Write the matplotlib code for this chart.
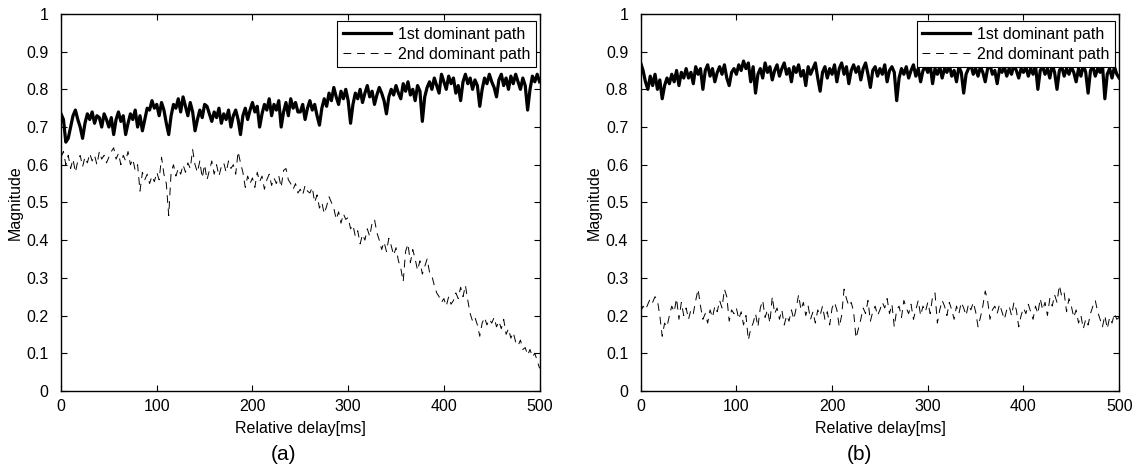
import numpy as np
import matplotlib
matplotlib.use("Agg")
import matplotlib.pyplot as plt

plt.rcParams['font.family'] = ['Liberation Sans', 'DejaVu Sans']

# relative delay axis [ms], one sample every 2.5 ms
delay = np.linspace(0, 500, 201)

# (a) magnitudes
a_first = [
    0.735, 0.72, 0.66, 0.67, 0.70, 0.73, 0.745, 0.72, 0.70, 0.67, 0.71, 0.735, 0.72, 0.74, 0.71, 0.73, 0.725, 0.70, 0.735, 0.72,
    0.70, 0.725, 0.68, 0.72, 0.74, 0.715, 0.73, 0.68, 0.71, 0.735, 0.72, 0.745, 0.70, 0.73, 0.69, 0.72, 0.75, 0.745, 0.77, 0.75,
    0.76, 0.73, 0.765, 0.745, 0.71, 0.68, 0.73, 0.76, 0.75, 0.775, 0.74, 0.78, 0.755, 0.73, 0.765, 0.74, 0.69, 0.72, 0.745, 0.725,
    0.76, 0.755, 0.735, 0.715, 0.74, 0.725, 0.75, 0.71, 0.735, 0.72, 0.745, 0.70, 0.73, 0.745, 0.72, 0.68, 0.73, 0.75, 0.72, 0.745,
    0.765, 0.74, 0.755, 0.70, 0.735, 0.76, 0.745, 0.775, 0.73, 0.76, 0.745, 0.77, 0.70, 0.74, 0.765, 0.73, 0.775, 0.75, 0.765, 0.74,
    0.74, 0.76, 0.72, 0.75, 0.77, 0.745, 0.76, 0.73, 0.705, 0.75, 0.775, 0.755, 0.79, 0.77, 0.805, 0.78, 0.76, 0.795, 0.775, 0.80,
    0.77, 0.71, 0.76, 0.79, 0.775, 0.80, 0.765, 0.79, 0.81, 0.78, 0.795, 0.76, 0.785, 0.805, 0.79, 0.77, 0.735, 0.78, 0.80, 0.785,
    0.81, 0.79, 0.775, 0.815, 0.795, 0.82, 0.785, 0.80, 0.77, 0.81, 0.795, 0.715, 0.78, 0.805, 0.82, 0.80, 0.83, 0.81, 0.79, 0.84,
    0.82, 0.80, 0.835, 0.815, 0.83, 0.79, 0.81, 0.77, 0.82, 0.84, 0.815, 0.83, 0.80, 0.825, 0.81, 0.755, 0.80, 0.83, 0.815, 0.84,
    0.82, 0.805, 0.78, 0.825, 0.84, 0.81, 0.83, 0.80, 0.835, 0.815, 0.84, 0.82, 0.80, 0.83, 0.81, 0.745, 0.80, 0.835, 0.82, 0.84,
    0.82]
a_second = [
    0.62, 0.635, 0.60, 0.625, 0.59, 0.615, 0.58, 0.61, 0.625, 0.595, 0.62, 0.605, 0.63, 0.61, 0.625, 0.60, 0.635, 0.615, 0.625, 0.605,
    0.62, 0.635, 0.645, 0.615, 0.63, 0.60, 0.625, 0.61, 0.635, 0.60, 0.615, 0.585, 0.60, 0.53, 0.58, 0.56, 0.575, 0.55, 0.57, 0.555,
    0.58, 0.56, 0.62, 0.575, 0.55, 0.465, 0.58, 0.60, 0.57, 0.59, 0.575, 0.60, 0.58, 0.605, 0.59, 0.64, 0.60, 0.58, 0.61, 0.565,
    0.60, 0.56, 0.585, 0.61, 0.575, 0.60, 0.57, 0.595, 0.605, 0.58, 0.61, 0.59, 0.60, 0.575, 0.635, 0.605, 0.58, 0.54, 0.57, 0.55,
    0.565, 0.54, 0.58, 0.555, 0.57, 0.535, 0.56, 0.575, 0.545, 0.565, 0.55, 0.57, 0.54, 0.585, 0.59, 0.56, 0.55, 0.535, 0.55, 0.525,
    0.535, 0.52, 0.545, 0.53, 0.525, 0.54, 0.50, 0.52, 0.485, 0.50, 0.47, 0.49, 0.515, 0.50, 0.485, 0.455, 0.475, 0.445, 0.47, 0.455,
    0.46, 0.43, 0.44, 0.41, 0.425, 0.39, 0.415, 0.40, 0.43, 0.41, 0.445, 0.455, 0.42, 0.40, 0.375, 0.395, 0.37, 0.405, 0.385, 0.36,
    0.38, 0.345, 0.325, 0.29, 0.37, 0.39, 0.34, 0.375, 0.35, 0.32, 0.345, 0.31, 0.33, 0.35, 0.315, 0.305, 0.28, 0.26, 0.25, 0.235,
    0.245, 0.225, 0.25, 0.23, 0.24, 0.26, 0.245, 0.275, 0.25, 0.28, 0.24, 0.205, 0.185, 0.195, 0.175, 0.145, 0.18, 0.195, 0.175, 0.19,
    0.18, 0.195, 0.17, 0.185, 0.165, 0.19, 0.15, 0.165, 0.14, 0.155, 0.13, 0.12, 0.135, 0.11, 0.115, 0.095, 0.11, 0.09, 0.10, 0.08,
    0.06]

# (b)
b_first = [
    0.87, 0.85, 0.82, 0.80, 0.835, 0.81, 0.84, 0.80, 0.825, 0.775, 0.81, 0.83, 0.815, 0.84, 0.82, 0.85, 0.81, 0.845, 0.83, 0.855,
    0.83, 0.845, 0.815, 0.86, 0.84, 0.855, 0.80, 0.85, 0.865, 0.835, 0.855, 0.82, 0.845, 0.86, 0.84, 0.865, 0.83, 0.81, 0.845, 0.855,
    0.84, 0.865, 0.85, 0.875, 0.855, 0.87, 0.82, 0.86, 0.79, 0.84, 0.855, 0.83, 0.87, 0.845, 0.86, 0.825, 0.85, 0.865, 0.835, 0.855,
    0.87, 0.84, 0.855, 0.82, 0.86, 0.845, 0.865, 0.835, 0.85, 0.81, 0.86, 0.84, 0.855, 0.87, 0.83, 0.795, 0.845, 0.86, 0.83, 0.855,
    0.84, 0.865, 0.82, 0.855, 0.87, 0.84, 0.86, 0.815, 0.85, 0.865, 0.845, 0.86, 0.825, 0.855, 0.87, 0.84, 0.805, 0.85, 0.86, 0.835,
    0.855, 0.84, 0.865, 0.82, 0.85, 0.86, 0.845, 0.77, 0.83, 0.855, 0.84, 0.86, 0.83, 0.85, 0.865, 0.835, 0.855, 0.82, 0.85, 0.86,
    0.845, 0.865, 0.815, 0.855, 0.84, 0.86, 0.83, 0.855, 0.845, 0.865, 0.835, 0.85, 0.82, 0.86, 0.845, 0.79, 0.84, 0.855, 0.865, 0.84,
    0.855, 0.835, 0.86, 0.845, 0.82, 0.855, 0.865, 0.84, 0.85, 0.815, 0.855, 0.845, 0.86, 0.835, 0.855, 0.84, 0.865, 0.85, 0.83, 0.855,
    0.845, 0.86, 0.835, 0.855, 0.84, 0.865, 0.80, 0.85, 0.86, 0.84, 0.855, 0.83, 0.865, 0.845, 0.80, 0.85, 0.86, 0.835, 0.855, 0.84,
    0.86, 0.845, 0.82, 0.855, 0.835, 0.865, 0.845, 0.79, 0.85, 0.86, 0.835, 0.855, 0.845, 0.865, 0.775, 0.84, 0.855, 0.83, 0.86, 0.84,
    0.83]
b_second = [
    0.21, 0.225, 0.215, 0.23, 0.245, 0.235, 0.25, 0.24, 0.20, 0.145, 0.18, 0.17, 0.20, 0.225, 0.21, 0.245, 0.19, 0.235, 0.20, 0.22,
    0.19, 0.215, 0.205, 0.24, 0.27, 0.225, 0.19, 0.205, 0.18, 0.215, 0.195, 0.225, 0.21, 0.24, 0.22, 0.27, 0.25, 0.185, 0.215, 0.205,
    0.22, 0.19, 0.21, 0.175, 0.20, 0.135, 0.165, 0.18, 0.205, 0.17, 0.22, 0.24, 0.195, 0.215, 0.18, 0.25, 0.205, 0.22, 0.19, 0.215,
    0.175, 0.20, 0.185, 0.215, 0.19, 0.22, 0.255, 0.215, 0.235, 0.20, 0.225, 0.19, 0.21, 0.18, 0.215, 0.20, 0.225, 0.19, 0.21, 0.175,
    0.22, 0.235, 0.215, 0.17, 0.20, 0.27, 0.245, 0.225, 0.235, 0.21, 0.14, 0.165, 0.19, 0.22, 0.205, 0.24, 0.185, 0.21, 0.225, 0.20,
    0.215, 0.235, 0.22, 0.245, 0.205, 0.23, 0.17, 0.215, 0.225, 0.195, 0.24, 0.22, 0.205, 0.23, 0.19, 0.215, 0.24, 0.20, 0.225, 0.21,
    0.235, 0.205, 0.25, 0.26, 0.18, 0.215, 0.24, 0.225, 0.20, 0.235, 0.215, 0.19, 0.225, 0.205, 0.235, 0.22, 0.20, 0.23, 0.215, 0.235,
    0.21, 0.17, 0.195, 0.225, 0.265, 0.24, 0.19, 0.215, 0.225, 0.205, 0.23, 0.21, 0.19, 0.215, 0.225, 0.20, 0.235, 0.215, 0.17, 0.20,
    0.22, 0.205, 0.23, 0.21, 0.19, 0.225, 0.205, 0.245, 0.215, 0.235, 0.20, 0.245, 0.225, 0.255, 0.235, 0.28, 0.25, 0.26, 0.21, 0.245,
    0.225, 0.195, 0.215, 0.18, 0.20, 0.165, 0.19, 0.175, 0.205, 0.225, 0.24, 0.21, 0.19, 0.17, 0.20, 0.165, 0.195, 0.18, 0.205, 0.19,
    0.195]

labels = ['1st dominant path', '2nd dominant path']
captions = ['(a)', '(b)']
fs = 11.5

fig = plt.figure(figsize=(11.41, 4.71), dpi=100)
ax_a = fig.add_axes([0.0535, 0.170, 0.4194, 0.8004])
ax_b = fig.add_axes([0.5615, 0.170, 0.4194, 0.8004])


def draw_panel(ax, first, second):
    ax.plot(delay, first, color='k', lw=2.3, label=labels[0])
    ax.plot(delay, second, color='k', lw=0.7, dashes=(8, 6), label=labels[1])
    ax.set_xlim(0, 500)
    ax.set_ylim(0, 1)
    ax.set_xticks([0, 100, 200, 300, 400, 500])
    ax.set_yticks(np.arange(0, 1.01, 0.1))
    ax.set_yticklabels(['0', '0.1', '0.2', '0.3', '0.4', '0.5', '0.6', '0.7', '0.8', '0.9', '1'])
    ax.tick_params(direction='in', top=True, right=True, length=4, width=0.8, labelsize=fs)
    ax.tick_params(axis='x', pad=6)
    ax.tick_params(axis='y', pad=9)
    for s in ax.spines.values():
        s.set_linewidth(1.0)
    ax.set_xlabel('Relative delay[ms]', fontsize=fs)
    ax.set_ylabel('Magnitude', fontsize=fs)
    ax.xaxis.set_label_coords(0.5, -0.08)
    ax.yaxis.set_label_coords(-0.081, 0.5)
    leg = ax.legend(loc='upper right', bbox_to_anchor=(0.992, 0.98), borderaxespad=0,
                    fontsize=fs, fancybox=False, framealpha=1, edgecolor='k',
                    handlelength=3.0, handletextpad=0.45, labelspacing=0.3, borderpad=0.35)
    leg.get_frame().set_linewidth(0.8)


draw_panel(ax_a, a_first, a_second)
draw_panel(ax_b, b_first, b_second)

fig.text(283 / 1141, 16 / 471, captions[0], ha='center', va='center', fontsize=15)
fig.text(859 / 1141, 16 / 471, captions[1], ha='center', va='center', fontsize=15)

fig.savefig('out.png', dpi=100)
